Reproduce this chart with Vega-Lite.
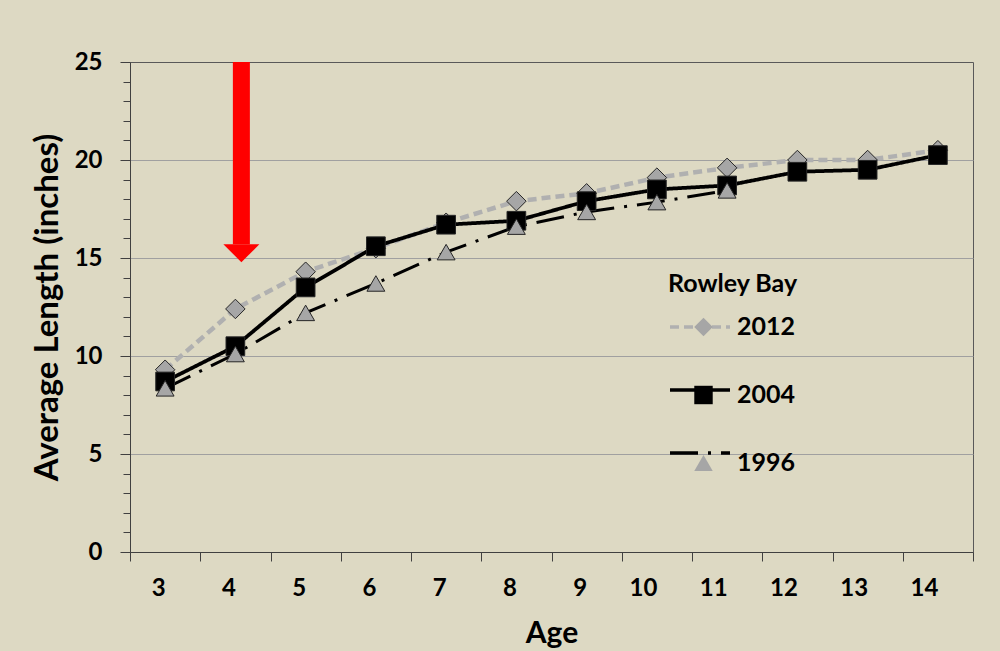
{
  "$schema": "https://vega.github.io/schema/vega-lite/v6.json",
  "autosize": {"type": "none"},
  "width": 843,
  "height": 490,
  "padding": {"left": 130, "top": 62, "right": 27, "bottom": 99},
  "background": "#ddd9c3",
  "config": {
    "view": {"stroke": "#595959", "strokeWidth": 1},
    "font": "Lato"
  },
  "datasets": {
    "fish": [
      {"age": 3, "year": "2012", "series": "2012", "length": 9.3},
      {"age": 4, "year": "2012", "series": "2012", "length": 12.4},
      {"age": 5, "year": "2012", "series": "2012", "length": 14.3},
      {"age": 6, "year": "2012", "series": "2012", "length": 15.5},
      {"age": 7, "year": "2012", "series": "2012", "length": 16.8},
      {"age": 8, "year": "2012", "series": "2012", "length": 17.9},
      {"age": 9, "year": "2012", "series": "2012", "length": 18.3},
      {"age": 10, "year": "2012", "series": "2012", "length": 19.1},
      {"age": 11, "year": "2012", "series": "2012", "length": 19.6},
      {"age": 12, "year": "2012", "series": "2012", "length": 20.0},
      {"age": 13, "year": "2012", "series": "2012", "length": 20.0},
      {"age": 14, "year": "2012", "series": "2012", "length": 20.5},
      {"age": 3, "year": "2004", "series": "2004", "length": 8.7},
      {"age": 4, "year": "2004", "series": "2004", "length": 10.5},
      {"age": 5, "year": "2004", "series": "2004", "length": 13.5},
      {"age": 6, "year": "2004", "series": "2004", "length": 15.6},
      {"age": 7, "year": "2004", "series": "2004", "length": 16.7},
      {"age": 8, "year": "2004", "series": "2004", "length": 16.9},
      {"age": 9, "year": "2004", "series": "2004", "length": 17.9},
      {"age": 10, "year": "2004", "series": "2004", "length": 18.5},
      {"age": 11, "year": "2004", "series": "2004", "length": 18.7},
      {"age": 12, "year": "2004", "series": "2004", "length": 19.4},
      {"age": 13, "year": "2004", "series": "2004", "length": 19.5},
      {"age": 14, "year": "2004", "series": "2004", "length": 20.25},
      {"age": 3, "year": "1996", "series": "1996", "length": 8.35},
      {"age": 4, "year": "1996", "series": "1996", "length": 10.1},
      {"age": 5, "year": "1996", "series": "1996", "length": 12.2},
      {"age": 6, "year": "1996", "series": "1996", "length": 13.7},
      {"age": 7, "year": "1996", "series": "1996", "length": 15.3},
      {"age": 8, "year": "1996", "series": "1996", "length": 16.6},
      {"age": 9, "year": "1996", "series": "1996", "length": 17.35},
      {"age": 10, "year": "1996", "series": "1996", "length": 17.85},
      {"age": 11, "year": "1996", "series": "1996", "length": 18.45}
    ],
    "arrow": [
      {"age": 4, "top": 25, "base": 15.7}
    ]
  },
  "layer": [
    {
      "data": {"name": "arrow"},
      "mark": {"type": "rule", "color": "#ff0000", "strokeWidth": 17, "strokeCap": "butt", "xOffset": 6},
      "encoding": {
        "x": {"field": "age", "type": "ordinal"},
        "y": {"field": "top", "type": "quantitative"},
        "y2": {"field": "base"}
      }
    },
    {
      "data": {"name": "arrow"},
      "mark": {"type": "point", "shape": "M-1,0L1,0L0,1Z", "size": 1296, "filled": true, "color": "#ff0000", "strokeWidth": 0, "opacity": 1, "xOffset": 6},
      "encoding": {
        "x": {"field": "age", "type": "ordinal"},
        "y": {"field": "base", "type": "quantitative"}
      }
    },
    {
      "data": {"name": "fish"},
      "mark": {"type": "line"},
      "encoding": {
        "x": {"field": "age", "type": "ordinal"},
        "y": {"field": "length", "type": "quantitative"},
        "color": {
          "field": "year", "type": "nominal", "sort": null,
          "scale": {"range": ["#b0b0b0", "#000000", "#000000"]},
          "legend": {
            "orient": "none", "legendX": 538, "legendY": 210, "padding": 0,
            "title": "Rowley Bay", "titleFont": "Lato", "titleFontSize": 25, "titleFontWeight": "bold", "titleColor": "#000000", "titlePadding": 20,
            "symbolType": "stroke", "symbolSize": 3600, "symbolStrokeWidth": 3.5,
            "labelExpr": "''", "clipHeight": 20, "rowPadding": 43
          }
        },
        "strokeDash": {
          "field": "year", "type": "nominal", "sort": null,
          "scale": {"range": [[9, 5], [1, 0], [28, 10, 3, 10]]},
          "legend": {
            "orient": "none", "legendX": 538, "legendY": 210, "padding": 0,
            "title": "Rowley Bay", "titleFont": "Lato", "titleFontSize": 25, "titleFontWeight": "bold", "titleColor": "#000000", "titlePadding": 20,
            "symbolType": "stroke", "symbolSize": 3600, "symbolStrokeWidth": 3.5,
            "labelExpr": "''", "clipHeight": 20, "rowPadding": 43
          }
        },
        "size": {
          "field": "year", "type": "nominal", "sort": null,
          "scale": {"range": [4.5, 3, 3]},
          "legend": null
        }
      }
    },
    {
      "data": {"name": "fish"},
      "mark": {"type": "point", "filled": true, "stroke": "#262626", "strokeWidth": 1, "opacity": 1},
      "encoding": {
        "x": {
          "field": "age", "type": "ordinal",
          "scale": {"paddingInner": 0, "paddingOuter": 0},
          "axis": {
            "title": "Age", "titleFont": "Lato", "titleFontSize": 30, "titleFontWeight": "bold", "titleColor": "#000000", "titlePadding": 18,
            "labelAngle": 0, "labelFont": "Lato", "labelFontSize": 24, "labelFontWeight": "bold", "labelColor": "#000000", "labelPadding": 27,
            "tickBand": "extent", "tickSize": 9, "tickColor": "#404040", "domainColor": "#404040", "grid": false
          }
        },
        "y": {
          "field": "length", "type": "quantitative",
          "scale": {"domain": [0, 25], "nice": false, "zero": true},
          "axis": {
            "title": "Average Length (inches)", "titleFont": "Lato", "titleFontSize": 33, "titleFontWeight": "bold", "titleColor": "#000000", "titlePadding": 10,
            "values": [0,1,2,3,4,5,6,7,8,9,10,11,12,13,14,15,16,17,18,19,20,21,22,23,24,25],
            "tickCount": 26,
            "labelExpr": "datum.value % 5 === 0 ? datum.label : ''",
            "labelOverlap": false,
            "labelFont": "Lato", "labelFontSize": 24, "labelFontWeight": "bold", "labelColor": "#000000", "labelPadding": 18,
            "tickSize": {"condition": {"test": "datum.value % 5 === 0", "value": 10}, "value": 7},
            "tickColor": "#404040", "domainColor": "#404040",
            "grid": true, "gridColor": "#a0a0a0", "gridWidth": 1,
            "gridOpacity": {"condition": {"test": "datum.value % 5 === 0 && datum.value > 0 && datum.value < 25", "value": 1}, "value": 0}
          }
        },
        "shape": {
          "field": "series", "type": "nominal", "sort": null,
          "scale": {"range": ["diamond", "square", "triangle-up"]},
          "legend": {
            "orient": "none", "legendX": 561, "legendY": 255, "padding": 0,
            "title": null,
            "symbolSize": 340, "symbolStrokeColor": "#262626", "symbolStrokeWidth": 1,
            "labelFont": "Lato", "labelFontSize": 25, "labelFontWeight": "bold", "labelColor": "#000000", "labelOffset": 21,
            "clipHeight": 20, "rowPadding": 43
          }
        },
        "fill": {
          "field": "series", "type": "nominal", "sort": null,
          "scale": {"range": ["#a6a6a6", "#000000", "#a6a6a6"]},
          "legend": {
            "orient": "none", "legendX": 561, "legendY": 255, "padding": 0,
            "title": null,
            "symbolSize": 340, "symbolStrokeColor": "#262626", "symbolStrokeWidth": 1,
            "labelFont": "Lato", "labelFontSize": 25, "labelFontWeight": "bold", "labelColor": "#000000", "labelOffset": 21,
            "clipHeight": 20, "rowPadding": 43
          }
        },
        "size": {
          "field": "series", "type": "nominal", "sort": null,
          "scale": {"range": [380, 320, 420]},
          "legend": null
        }
      }
    }
  ],
  "resolve": {"scale": {"size": "independent"}}
}
